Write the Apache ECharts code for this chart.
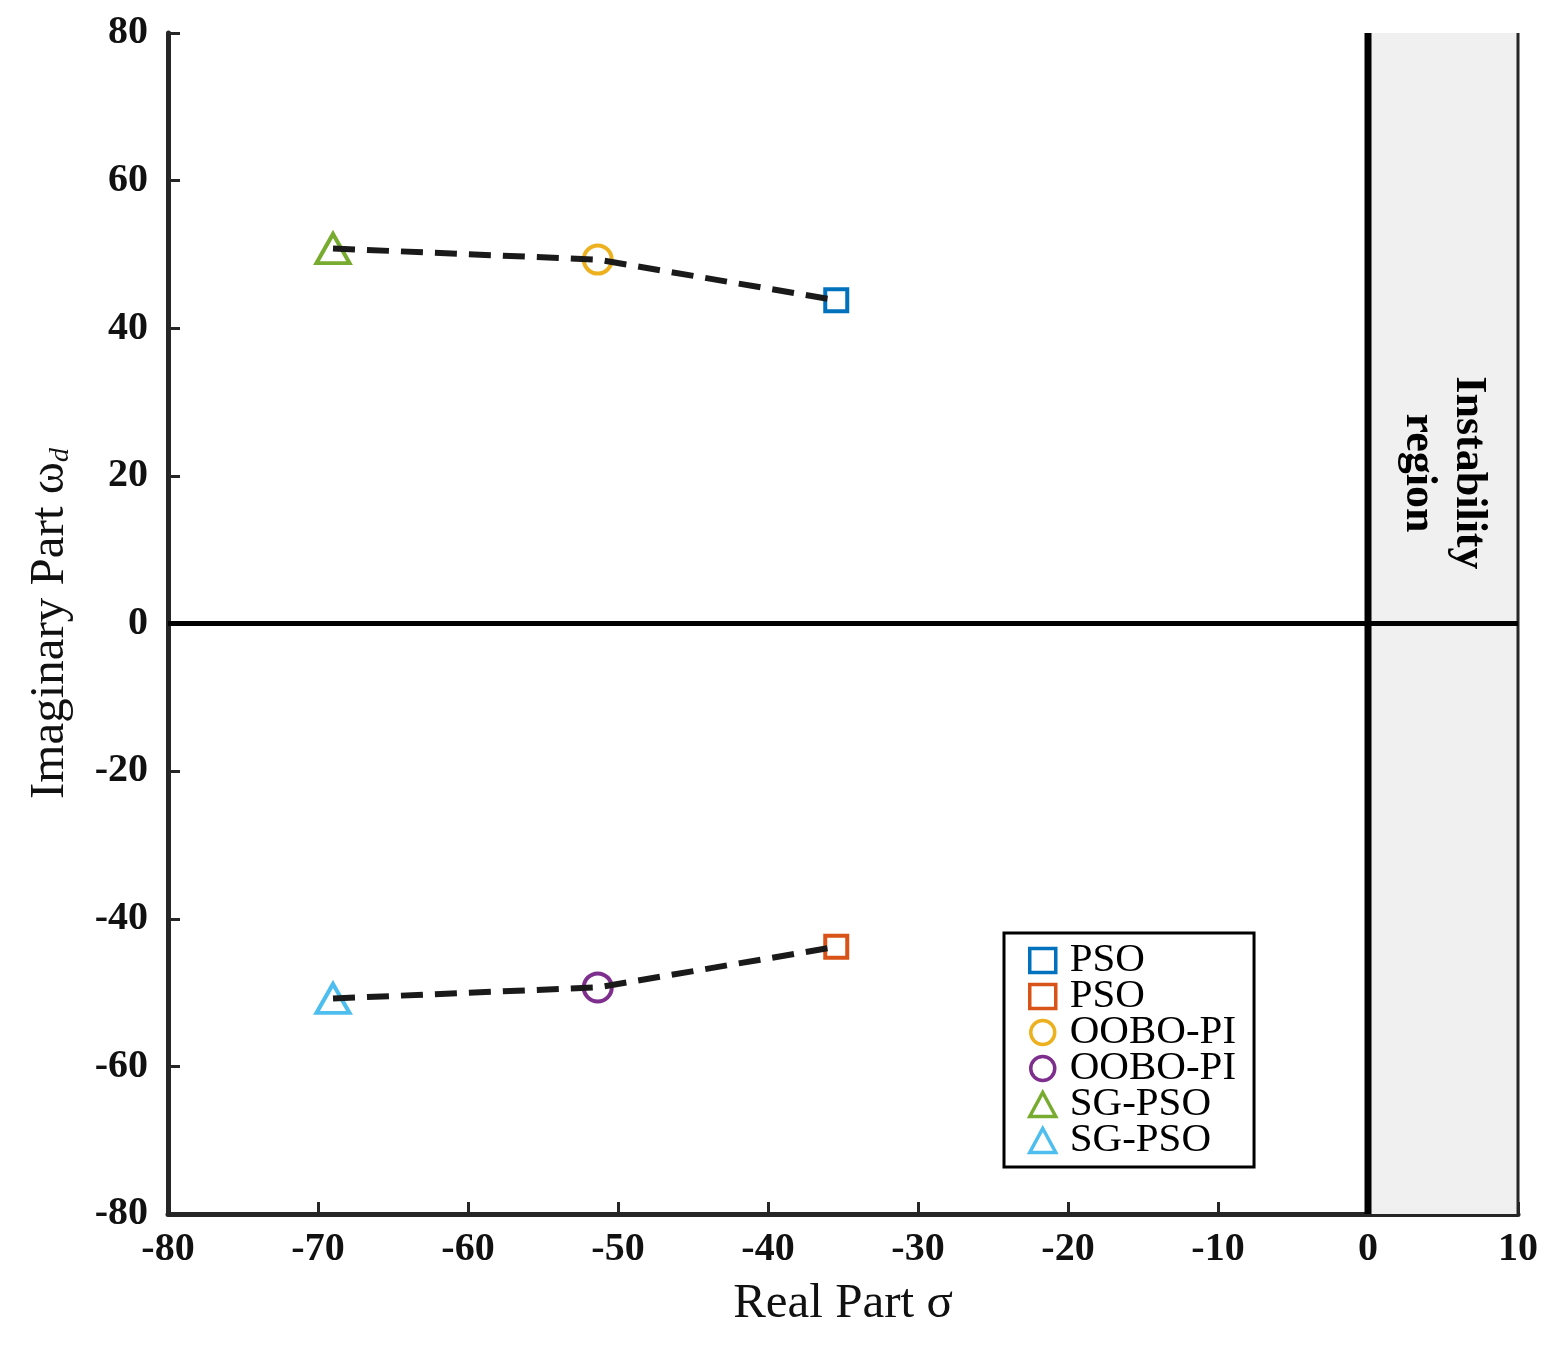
<!DOCTYPE html>
<html>
<head>
<meta charset="utf-8">
<script src="https://cdn.jsdelivr.net/npm/echarts@6/dist/echarts.min.js"></script>
<style>html,body{margin:0;padding:0;background:#fff;}#c{width:1561px;height:1352px;}</style>
</head>
<body>
<div id="c"></div>
<script>
// ---- data ----
const seriesNames = ['PSO', 'PSO\u200b', 'OOBO-PI', 'OOBO-PI\u200b', 'SG-PSO', 'SG-PSO\u200b'];
const seriesColors = ['#0072BD', '#D95319', '#EDB120', '#7E2F8E', '#77AC30', '#4DBEEE'];
const seriesSymbols = ['rect', 'rect', 'circle', 'circle', 'triangle', 'triangle'];
const poleReal = [-35.45, -35.45, -51.35, -51.35, -69.0, -69.0];
const poleImag = [43.8, -43.8, 49.3, -49.3, 50.8, -50.8];
const upperPathReal = [-69.0, -51.35, -35.45];
const upperPathImag = [50.8, 49.3, 43.8];
const lowerPathReal = [-69.0, -51.35, -35.45];
const lowerPathImag = [-50.8, -49.3, -43.8];
const xTicks = [-80, -70, -60, -50, -40, -30, -20, -10, 0, 10];
const yTicks = [-80, -60, -40, -20, 0, 20, 40, 60, 80];
const instabilityRange = [0, 10];
const zeroHLine = [[-80, 0], [10, 0]];
const zeroVLine = [[0, -80], [0, 80]];
const rightEdgeLine = [[10, -80], [10, 80]];
const instabilityLabelAt = [5, 20.4];
const instabilityText = 'Instability\nregion';

// ---- chart ----
const chart = echarts.init(document.getElementById('c'));
const serif = 'Liberation Serif, Times New Roman, serif';
const axisColor = '#262626';

const scatterSeries = seriesNames.map((n, i) => ({
  name: n,
  type: 'scatter',
  data: [[poleReal[i], poleImag[i]]],
  symbol: seriesSymbols[i],
  symbolSize: seriesSymbols[i] === 'rect' ? 22 : (seriesSymbols[i] === 'circle' ? 28 : [33, 29]),
  itemStyle: { color: 'rgba(255,255,255,0)', borderColor: seriesColors[i], borderWidth: 4, opacity: 1 },
  z: 3
}));

function pairs(xs, ys) { return xs.map((x, i) => [x, ys[i]]); }

const option = {
  animation: false,
  backgroundColor: '#fff',
  grid: { left: 168, right: 43, top: 33, bottom: 138, containLabel: false },
  xAxis: {
    type: 'value', min: xTicks[0], max: xTicks[xTicks.length - 1], interval: 10,
    name: 'Real Part σ', nameLocation: 'middle', nameGap: 66,
    nameTextStyle: { fontFamily: serif, fontSize: 49, color: '#111' },
    axisLine: { show: true, onZero: false, lineStyle: { color: axisColor, width: 5 } },
    axisTick: { show: true, inside: true, length: 12, lineStyle: { color: axisColor, width: 3 } },
    axisLabel: { fontFamily: serif, fontWeight: 'bold', fontSize: 40, color: '#111', margin: 16 },
    splitLine: { show: false }
  },
  yAxis: {
    type: 'value', min: yTicks[0], max: yTicks[yTicks.length - 1], interval: 20,
    name: 'Imaginary Part ω{sub|d}', nameLocation: 'middle', nameGap: 93,
    nameTextStyle: { fontFamily: serif, fontSize: 49, color: '#111',
      rich: { sub: { fontFamily: serif, fontStyle: 'italic', fontSize: 28, verticalAlign: 'bottom', padding: [20, 0, 0, 0] } } },
    axisLine: { show: true, onZero: false, lineStyle: { color: axisColor, width: 5 } },
    axisTick: { show: true, inside: true, length: 12, lineStyle: { color: axisColor, width: 3 } },
    axisLabel: { fontFamily: serif, fontWeight: 'bold', fontSize: 40, color: '#111', margin: 20 },
    splitLine: { show: false }
  },
  legend: {
    orient: 'vertical', left: 1004, top: 933,
    data: seriesNames,
    formatter: n => n.replace(/\u200b/g, ''),
    itemWidth: 26, itemHeight: 24, itemGap: -5,
    symbolKeepAspect: true,
    itemStyle: { borderWidth: 3.5 },
    padding: [7, 18, 6, 24],
    borderColor: '#000', borderWidth: 3, backgroundColor: '#fff',
    textStyle: { fontFamily: serif, fontSize: 41, color: '#000', padding: [0, 0, 0, 9] }
  },
  series: [
    {
      type: 'line', data: rightEdgeLine, showSymbol: false, silent: true,
      lineStyle: { color: axisColor, width: 3 }, z: 1,
      markArea: { silent: true, itemStyle: { color: '#f0f0f0' },
        data: [[{ xAxis: instabilityRange[0] }, { xAxis: instabilityRange[1] }]] }
    },
    { type: 'line', data: zeroHLine, showSymbol: false, silent: true, lineStyle: { color: '#000', width: 5 }, z: 2 },
    { type: 'line', data: zeroVLine, showSymbol: false, silent: true, lineStyle: { color: '#000', width: 7 }, z: 2 },
    ...scatterSeries,
    { type: 'line', data: pairs(upperPathReal, upperPathImag), showSymbol: false, silent: true,
      lineStyle: { color: '#1a1a1a', width: 6, type: [22, 12] }, z: 4 },
    { type: 'line', data: pairs(lowerPathReal, lowerPathImag), showSymbol: false, silent: true,
      lineStyle: { color: '#1a1a1a', width: 6, type: [22, 12] }, z: 4 },
    {
      type: 'scatter', data: [instabilityLabelAt], symbolSize: 2, silent: true, z: 5,
      itemStyle: { color: 'rgba(0,0,0,0)' },
      label: { show: true, position: 'inside', rotate: -90, formatter: instabilityText,
        fontFamily: serif, fontWeight: 'bold', fontSize: 44, lineHeight: 50, color: '#000', opacity: 1,
        align: 'center', verticalAlign: 'middle' }
    }
  ]
};
chart.setOption(option);
</script>
</body>
</html>
